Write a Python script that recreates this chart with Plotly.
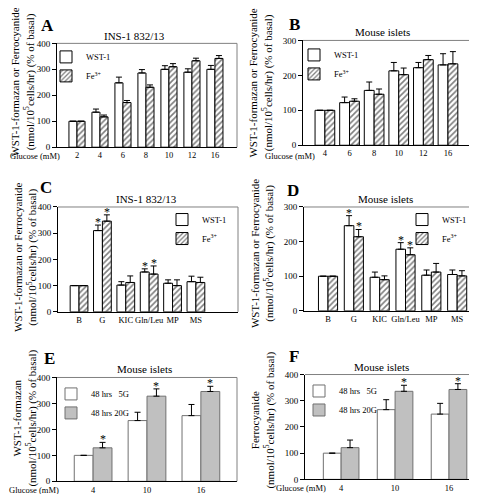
import plotly.graph_objects as go

W, H = 477, 494
FONT = "Liberation Serif, Times New Roman, DejaVu Serif, serif"

# ---------------- data ----------------
A_cats = ["2", "4", "6", "8", "10", "12", "16"]
A_wst = [100, 135, 248, 286, 300, 289, 300]
A_wst_err = [0, 12, 22, 13, 14, 13, 15]
A_fe = [100, 117, 172, 231, 310, 333, 342]
A_fe_err = [0, 7, 8, 9, 12, 10, 11]

B_cats = ["4", "6", "8", "10", "12", "16"]
B_wst = [100, 122, 157, 213, 222, 230]
B_wst_err = [0, 16, 24, 24, 15, 32]
B_fe = [100, 126, 146, 202, 245, 233]
B_fe_err = [0, 7, 15, 19, 12, 35]

C_cats = ["B", "G", "KIC", "Gln/Leu", "MP", "MS"]
C_wst = [100, 310, 102, 152, 109, 115]
C_wst_err = [0, 21, 13, 12, 13, 21]
C_fe = [100, 346, 112, 144, 100, 112]
C_fe_err = [0, 24, 25, 31, 22, 20]
C_star_wst = [0, 1, 0, 1, 0, 0]
C_star_fe = [0, 1, 0, 1, 0, 0]

D_cats = ["B", "G", "KIC", "Gln/Leu", "MP", "MS"]
D_wst = [100, 246, 97, 178, 103, 105]
D_wst_err = [0, 29, 15, 19, 15, 13]
D_fe = [100, 214, 90, 162, 112, 101]
D_fe_err = [0, 21, 11, 20, 25, 15]
D_star_wst = [0, 1, 0, 1, 0, 0]
D_star_fe = [0, 1, 0, 1, 0, 0]

E_cats = ["4", "10", "16"]
E_5g = [100, 234, 253]
E_5g_err = [0, 32, 43]
E_20g = [129, 328, 346]
E_20g_err = [21, 28, 20]
E_star_5g = [0, 0, 0]
E_star_20g = [1, 1, 1]

F_cats = ["4", "10", "16"]
F_5g = [100, 266, 249]
F_5g_err = [0, 38, 41]
F_20g = [121, 336, 343]
F_20g_err = [29, 23, 22]
F_star_5g = [0, 0, 0]
F_star_20g = [0, 1, 1]

# ---------------- layout helpers ----------------
def px(x):
    return x / W

def py(y):
    return 1 - y / H

fig = go.Figure()
annotations = []
shapes = []

YT1 = "WST-1-formazan or Ferrocyanide"
YT2 = "(nmol/10<sup>5</sup>cells/hr) (% of basal)"

panels = [
    dict(k="", letter="A", title="INS-1 832/13", cats=A_cats,
         s1=(A_wst, A_wst_err, None), s2=(A_fe, A_fe_err, None),
         names=("WST-1", "Fe<sup>3+</sup>"), style="hatch",
         box=(49, 229, 31, 137), xr=(-0.87, 6.96), w=0.35, ymax=400,
         letter_xy=(39, 13), title_xy=(127, 23), ytitle=YT1 + "<br>" + YT2, ytitle_xy=(15, 71),
         leg=(38, 30), glu=(27, 146)),
    dict(k="2", letter="B", title="Mouse islets", cats=B_cats,
         s1=(B_wst, B_wst_err, None), s2=(B_fe, B_fe_err, None),
         names=("WST-1", "Fe<sup>3+</sup>"), style="hatch",
         box=(295, 471, 28, 135), xr=(-0.89, 6.26), w=0.4, ymax=300,
         letter_xy=(286, 12), title_xy=(374, 19), ytitle=YT1 + "<br>" + YT2, ytitle_xy=(253, 72),
         leg=(286, 28), glu=(282, 146)),
    dict(k="3", letter="C", title="INS-1 832/13", cats=C_cats,
         s1=(C_wst, C_wst_err, C_star_wst), s2=(C_fe, C_fe_err, C_star_fe),
         names=("WST-1", "Fe<sup>3+</sup>"), style="hatch",
         box=(50, 230, 198, 305), xr=(-0.9, 6.8), w=0.38, ymax=400,
         letter_xy=(38, 178), title_xy=(138, 190), ytitle=YT1 + "<br>" + YT2, ytitle_xy=(18, 250),
         leg=(154, 196), glu=None),
    dict(k="4", letter="D", title="Mouse islets", cats=D_cats,
         s1=(D_wst, D_wst_err, D_star_wst), s2=(D_fe, D_fe_err, D_star_fe),
         names=("WST-1", "Fe<sup>3+</sup>"), style="hatch",
         box=(296, 475, 198, 304), xr=(-0.93, 6.0), w=0.37, ymax=300,
         letter_xy=(285, 181), title_xy=(377, 190), ytitle=YT1 + "<br>" + YT2, ytitle_xy=(254, 245),
         leg=(394, 196), glu=None),
    dict(k="5", letter="E", title="Mouse islets", cats=E_cats,
         s1=(E_5g, E_5g_err, E_star_5g), s2=(E_20g, E_20g_err, E_star_20g),
         names=("48 hrs \u20075G", "48 hrs 20G"), style="gray",
         box=(49, 229, 372, 478), xr=(-0.67, 2.67), w=0.35, ymax=400,
         letter_xy=(41, 353), title_xy=(136, 363), ytitle="WST-1-formazan<br>" + YT2, ytitle_xy=(17, 414),
         leg=(43, 374), glu=(26, 487)),
    dict(k="6", letter="F", title="Mouse islets", cats=F_cats,
         s1=(F_5g, F_5g_err, F_star_5g), s2=(F_20g, F_20g_err, F_star_20g),
         names=("48 hrs \u20075G", "48 hrs 20G"), style="gray",
         box=(297, 475, 369, 476), xr=(-0.67, 2.63), w=0.33, ymax=400,
         letter_xy=(286, 351), title_xy=(373, 361), ytitle="Ferrocyanide<br>" + YT2, ytitle_xy=(255, 416),
         leg=(291, 371), glu=(293, 485)),
]

layout_axes = {}
legends = {}

for p in panels:
    k = p["k"]
    xa = "x" + k
    ya = "y" + k
    legname = "legend" + k
    xs = list(range(len(p["cats"])))
    w = p["w"]
    if p["style"] == "hatch":
        m1 = dict(color="white", line=dict(color="black", width=1))
        m2 = dict(color="white", line=dict(color="black", width=1),
                  pattern=dict(shape="/", fgcolor="black", bgcolor="white", size=4, solidity=0.4))
    else:
        m1 = dict(color="white", line=dict(color="#707070", width=1))
        m2 = dict(color="#c0c0c0", line=dict(color="#707070", width=1))
    for (vals, errs, stars), name, mk, off in ((p["s1"], p["names"][0], m1, -w),
                                               (p["s2"], p["names"][1], m2, 0.0)):
        fig.add_trace(go.Bar(
            x=xs, y=vals, width=w, offset=off, name=name, marker=mk,
            xaxis=xa, yaxis=ya, legend=legname,
            error_y=dict(type="data", array=errs, arrayminus=[0] * len(errs), symmetric=False,
                         color="black", thickness=1, width=3),
            hoverinfo="skip",
        ))
        if stars:
            for i, s in enumerate(stars):
                if s:
                    annotations.append(dict(
                        x=xs[i] + off + w / 2, y=vals[i] + errs[i], xref=xa, yref=ya,
                        text="*", showarrow=False, yanchor="bottom", yshift=-6,
                        font=dict(family=FONT, size=12, color="#000000")))
    x0, x1, y0, y1 = p["box"]
    axis_suffix = "" if k == "" else k
    layout_axes["xaxis" + axis_suffix] = dict(
        domain=[px(x0), px(x1)], range=list(p["xr"]), anchor=ya,
        tickmode="array", tickvals=xs, ticktext=p["cats"], ticks="", tickangle=0,
        showline=True, linecolor="black", linewidth=1, showgrid=False, zeroline=False,
        tickfont=dict(family=FONT, size=8.5, color="black"), fixedrange=True)
    layout_axes["yaxis" + axis_suffix] = dict(
        domain=[py(y1), py(y0)], range=[0, p["ymax"]], anchor=xa,
        tickmode="linear", tick0=0, dtick=100, ticks="outside", ticklen=4, tickcolor="black",
        showline=True, linecolor="black", linewidth=1, showgrid=False, zeroline=False,
        tickfont=dict(family=FONT, size=9, color="black"), fixedrange=True)
    # gray top/right frame
    shapes.append(dict(type="line", xref=xa + " domain", yref=ya + " domain",
                       x0=0, x1=1, y0=1, y1=1, line=dict(color="#808080", width=1)))
    shapes.append(dict(type="line", xref=xa + " domain", yref=ya + " domain",
                       x0=1, x1=1, y0=0, y1=1, line=dict(color="#808080", width=1)))
    legends[legname] = dict(
        x=px(p["leg"][0]), y=py(p["leg"][1]), xanchor="left", yanchor="top",
        bgcolor="rgba(0,0,0,0)", borderwidth=0, tracegroupgap=0,
        font=dict(family=FONT, size=8.5, color="black"))
    # texts
    lx, ly = p["letter_xy"]
    annotations.append(dict(x=px(lx), y=py(ly), xref="paper", yref="paper", text="<b>%s</b>" % p["letter"],
                            showarrow=False, xanchor="center", yanchor="middle",
                            font=dict(family=FONT, size=17, color="black")))
    tx, ty = p["title_xy"]
    annotations.append(dict(x=px(tx), y=py(ty), xref="paper", yref="paper", text=p["title"],
                            showarrow=False, xanchor="center", yanchor="middle",
                            font=dict(family=FONT, size=11, color="black")))
    yx, yy = p["ytitle_xy"]
    annotations.append(dict(x=px(yx), y=py(yy), xref="paper", yref="paper", text=p["ytitle"],
                            showarrow=False, xanchor="center", yanchor="middle", textangle=-90,
                            font=dict(family=FONT, size=11, color="black")))
    if p["glu"]:
        gx, gy = p["glu"]
        annotations.append(dict(x=px(gx), y=py(gy), xref="paper", yref="paper", text="Glucose (mM)",
                                showarrow=False, xanchor="center", yanchor="middle",
                                font=dict(family=FONT, size=8.5, color="black")))

fig.update_layout(
    width=W, height=H, autosize=False,
    margin=dict(l=0, r=0, t=0, b=0),
    paper_bgcolor="white", plot_bgcolor="white",
    barmode="overlay", showlegend=True,
    font=dict(family=FONT, color="black"),
    annotations=annotations, shapes=shapes,
    **layout_axes, **legends,
)

fig.write_html("out.html")
